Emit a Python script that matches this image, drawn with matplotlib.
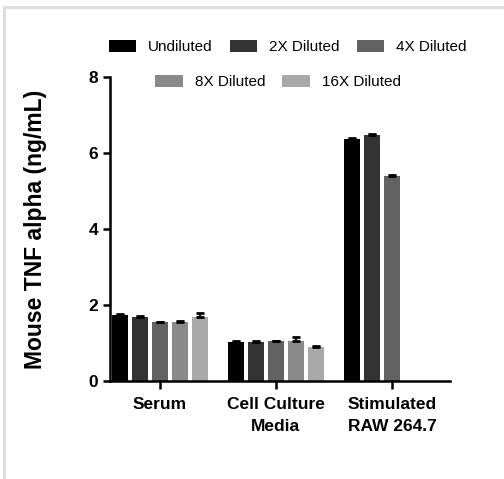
import numpy as np
import matplotlib.pyplot as plt
from matplotlib.lines import Line2D
from matplotlib.patches import Patch

plt.rcParams['font.family'] = ['Liberation Sans', 'DejaVu Sans']

# Data
categories = ["Serum", "Cell Culture\nMedia", "Stimulated\nRAW 264.7"]
series = ["Undiluted", "2X Diluted", "4X Diluted", "8X Diluted", "16X Diluted"]
means = {
    "Undiluted":   [1.74, 1.02, 6.37],
    "2X Diluted":  [1.68, 1.03, 6.48],
    "4X Diluted":  [1.55, 1.04, 5.40],
    "8X Diluted":  [1.54, 1.05, np.nan],
    "16X Diluted": [1.68, 0.90, np.nan],
}
errors = {
    "Undiluted":   [0.02, 0.02, 0.02],
    "2X Diluted":  [0.03, 0.03, 0.03],
    "4X Diluted":  [0.01, 0.02, 0.02],
    "8X Diluted":  [0.03, 0.10, 0.0],
    "16X Diluted": [0.10, 0.02, 0.0],
}
colors = ["#000000", "#333333", "#626262", "#8a8a8a", "#a9a9a9"]

fig = plt.figure(figsize=(5.04, 4.79), dpi=100)
ax = fig.add_axes([0.218, 0.205, 0.675, 0.634])

x = np.arange(len(categories))
step = 0.172
width = 0.138
for i, name in enumerate(series):
    pos = x + (i - 2) * step
    vals = np.array(means[name])
    err = np.array(errors[name])
    ok = ~np.isnan(vals)
    ax.bar(pos[ok], vals[ok], width=width, color=colors[i], zorder=2)
    ax.errorbar(pos[ok], vals[ok], yerr=[np.zeros(ok.sum()), err[ok]],
                fmt="none", ecolor="black", elinewidth=1.5, capsize=3,
                capthick=2, zorder=3)

ax.set_xlim(-0.43, 2.5)
ax.set_ylim(0, 8)
ax.set_yticks([0, 2, 4, 6, 8])
ax.set_xticks(x)
ax.set_xticklabels(categories, fontsize=12.5, fontweight="bold",
                   linespacing=1.55)
ax.tick_params(axis="y", labelsize=12.5, width=1.8, length=5, direction="out")
ax.tick_params(axis="x", width=1.8, length=6, direction="out", pad=6)
for lbl in ax.get_yticklabels():
    lbl.set_fontweight("bold")
for side in ["top", "right"]:
    ax.spines[side].set_visible(False)
for side in ["left", "bottom"]:
    ax.spines[side].set_linewidth(1.8)
ax.set_ylabel("Mouse TNF alpha (ng/mL)", fontsize=16.5, fontweight="bold",
              labelpad=30)

# legend in two centred rows
handles = [Patch(facecolor=c, edgecolor="none") for c in colors]
leg_kw = dict(loc="center", frameon=False, fontsize=11, handlelength=1.8,
              handleheight=0.8, columnspacing=1.1, handletextpad=0.8)
fig.legend(handles[:3], series[:3], ncol=3, bbox_to_anchor=(0.571, 0.902),
           **leg_kw)
fig.legend(handles[3:], series[3:], ncol=2, bbox_to_anchor=(0.552, 0.829),
           **leg_kw)

# light grey frame at left and top
fig.add_artist(Line2D([0.008, 0.008], [0.0, 0.986], color="#dddddd", lw=2,
                      transform=fig.transFigure))
fig.add_artist(Line2D([0.008, 1.0], [0.986, 0.986], color="#dddddd", lw=2,
                      transform=fig.transFigure))

fig.savefig("out.png", dpi=100)
